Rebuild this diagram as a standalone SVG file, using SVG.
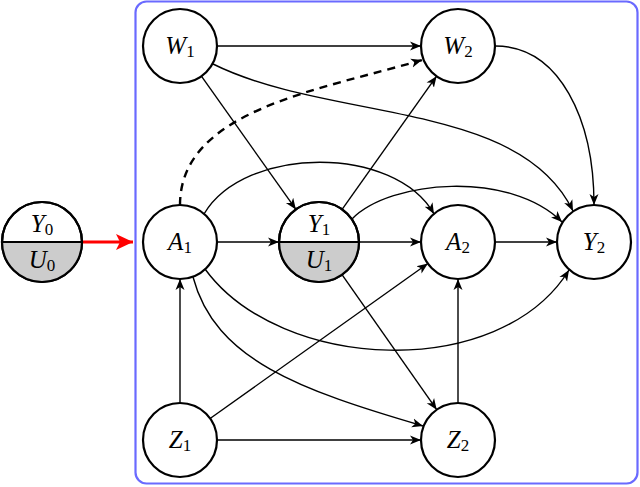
<svg xmlns="http://www.w3.org/2000/svg" width="640" height="487" viewBox="0 0 640 487">
<style>
  .node{fill:#ffffff;stroke:#000;stroke-width:2.2}
  .half{fill:#cccccc;stroke:none}
  .div{stroke:#000;stroke-width:2.2}
  .lbl{font-family:"Liberation Serif","Times New Roman",serif;font-size:25px;fill:#000}
  .v{font-style:italic}
  .s{font-size:17px;font-style:normal}
  .e{fill:none;stroke:#000;stroke-width:1.4;marker-end:url(#ah)}
  .d{stroke-dasharray:8,6;stroke-width:2.4}
</style>
<defs>
  <marker id="ah" markerUnits="userSpaceOnUse" markerWidth="14" markerHeight="12" refX="11" refY="5" orient="auto" viewBox="0 0 14 10">
    <path d="M0,0.5 L11,5 L0,9.5 L3,5 Z" fill="#000"/>
  </marker>
  <marker id="rh" markerUnits="userSpaceOnUse" markerWidth="20" markerHeight="18" refX="17" refY="8" orient="auto" viewBox="0 0 20 16">
    <path d="M0,0 L17,8 L0,16 L4,8 Z" fill="#ff0000"/>
  </marker>
</defs>
<rect id="frame" x="135.5" y="1.5" width="502" height="482" rx="11" ry="11" fill="none" stroke="#6a6aff" stroke-width="2.2"/>
<g id="connectors">
  <path class="e" d="M217,46 L421,46"/>
  <path class="e" d="M201.4,76.2 L295.9,209.4"/>
  <path class="e" d="M342.1,209.4 L436.6,76.2"/>
  <path class="e" d="M342,274.7 L436.7,409.7"/>
  <path class="e" d="M210.1,418.5 L427.9,263.5"/>
  <path class="e" d="M217,242 L279,242"/>
  <path class="e" d="M359,242 L421,242"/>
  <path class="e" d="M495,242 L557,242"/>
  <path class="e" d="M180,403 L180,279"/>
  <path class="e" d="M458,403 L458,279"/>
  <path class="e" d="M217,440 L421,440"/>
  <path class="e" d="M213,64 C330,122 520,100 573,211"/>
  <path class="e" d="M495,46 C560,46 594,120 594,205"/>
  <path class="e d" d="M180,205 C180,110 320,90 422,60"/>
  <path class="e" d="M204,214 C245,145 395,145 434,214"/>
  <path class="e" d="M205,269 C280,372 500,382 569,270"/>
  <path class="e" d="M193,277 C215,360 300,390 423,426"/>
  <path class="e" d="M352,219 C390,180 510,170 562,222"/>
  <path d="M82,242 L133,242" stroke="#ff0000" stroke-width="3" fill="none" marker-end="url(#rh)"/>
</g>
<g id="Y0U0">
  <circle class="node" cx="42" cy="242" r="40"/>
  <path class="half" d="M2,242 A40,40 0 0 0 82,242 Z"/>
  <circle cx="42" cy="242" r="40" fill="none" stroke="#000" stroke-width="2.2"/>
  <line class="div" x1="2" y1="242" x2="82" y2="242"/>
  <text class="lbl" x="42" y="232" text-anchor="middle"><tspan class="v">Y</tspan><tspan class="s" dy="3">0</tspan></text>
  <text class="lbl" x="42" y="268" text-anchor="middle"><tspan class="v">U</tspan><tspan class="s" dy="3">0</tspan></text>
</g>
<g id="W1">
  <circle class="node" cx="180" cy="46" r="37"/>
  <text class="lbl" x="180" y="54" text-anchor="middle"><tspan class="v">W</tspan><tspan class="s" dy="3">1</tspan></text>
</g>
<g id="W2">
  <circle class="node" cx="458" cy="46" r="37"/>
  <text class="lbl" x="458" y="54" text-anchor="middle"><tspan class="v">W</tspan><tspan class="s" dy="3">2</tspan></text>
</g>
<g id="A1">
  <circle class="node" cx="180" cy="242" r="37"/>
  <text class="lbl" x="180" y="250" text-anchor="middle"><tspan class="v">A</tspan><tspan class="s" dy="3">1</tspan></text>
</g>
<g id="Y1U1">
  <circle class="node" cx="319" cy="242" r="40"/>
  <path class="half" d="M279,242 A40,40 0 0 0 359,242 Z"/>
  <circle cx="319" cy="242" r="40" fill="none" stroke="#000" stroke-width="2.2"/>
  <line class="div" x1="279" y1="242" x2="359" y2="242"/>
  <text class="lbl" x="319" y="232" text-anchor="middle"><tspan class="v">Y</tspan><tspan class="s" dy="3">1</tspan></text>
  <text class="lbl" x="319" y="268" text-anchor="middle"><tspan class="v">U</tspan><tspan class="s" dy="3">1</tspan></text>
</g>
<g id="A2">
  <circle class="node" cx="458" cy="242" r="37"/>
  <text class="lbl" x="458" y="250" text-anchor="middle"><tspan class="v">A</tspan><tspan class="s" dy="3">2</tspan></text>
</g>
<g id="Y2">
  <circle class="node" cx="594" cy="242" r="37"/>
  <text class="lbl" x="594" y="250" text-anchor="middle"><tspan class="v">Y</tspan><tspan class="s" dy="3">2</tspan></text>
</g>
<g id="Z1">
  <circle class="node" cx="180" cy="440" r="37"/>
  <text class="lbl" x="180" y="448" text-anchor="middle"><tspan class="v">Z</tspan><tspan class="s" dy="3">1</tspan></text>
</g>
<g id="Z2">
  <circle class="node" cx="458" cy="440" r="37"/>
  <text class="lbl" x="458" y="448" text-anchor="middle"><tspan class="v">Z</tspan><tspan class="s" dy="3">2</tspan></text>
</g>
</svg>
